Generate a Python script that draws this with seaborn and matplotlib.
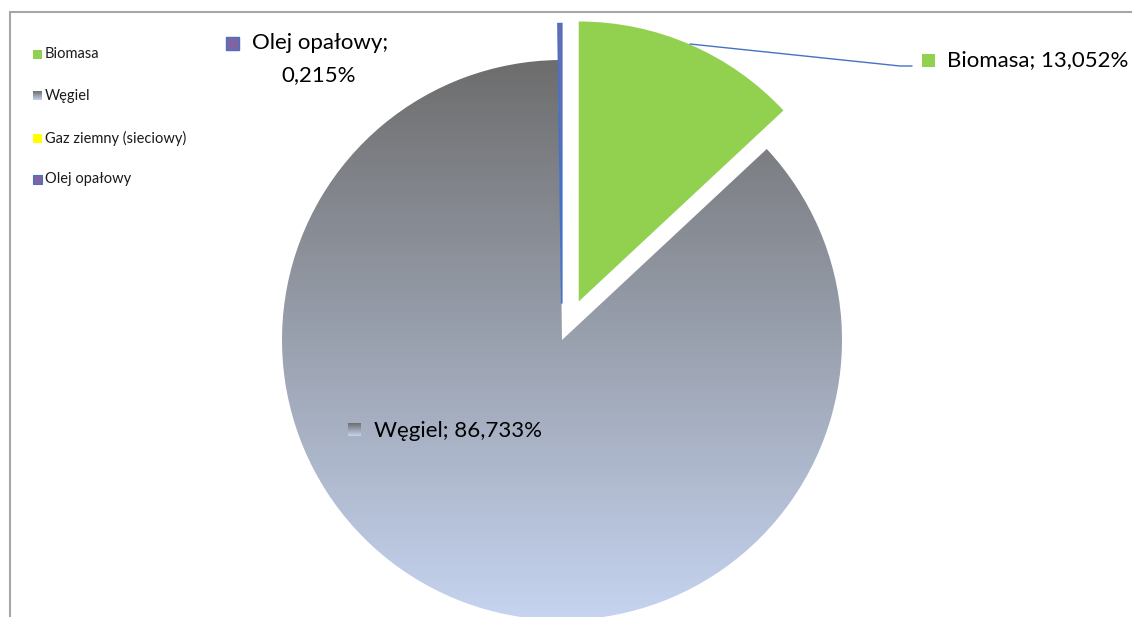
import numpy as np
import matplotlib
matplotlib.use("Agg")
import matplotlib.pyplot as plt
import seaborn as sns
from matplotlib.patches import Rectangle

# Data
categories = ["Biomasa", "Węgiel", "Gaz ziemny (sieciowy)", "Olej opałowy"]
shares = [13.052, 86.733, 0.0, 0.215]
explode = [0.15, 0.0, 0.0, 0.13]
colors = ["#92d050", "none", "#ffff00", "#8064a2"]

sns.set_theme(style="white")
plt.rcParams["font.family"] = ["Lato", "DejaVu Sans"]

W, H = 1132, 617
fig = plt.figure(figsize=(W / 100, H / 100), dpi=100)
ax = fig.add_axes([0, 0, 1, 1])


def py(y):
    # pixel row (top down) -> data y
    return H - y


cx, cy, r = 562, py(340), 280

# matplotlib's explode is in data units, so scale by the radius
wedges, _ = ax.pie(shares, explode=[e * r for e in explode], colors=colors,
                   startangle=90, counterclock=False, center=(cx, cy),
                   radius=r, wedgeprops=dict(linewidth=0))
wedges[3].set_edgecolor("#4472c4")
wedges[3].set_linewidth(1.2)

# gradient fill for Węgiel
top_c = np.array([0x6d, 0x6d, 0x6d]) / 255
bot_c = np.array([0xc6, 0xd4, 0xf0]) / 255
t = np.linspace(0, 1, 256)[:, None, None]
grad = top_c * (1 - t) + bot_c * t
im = ax.imshow(grad, extent=[cx - r, cx + r, cy - r, cy + r], aspect="auto",
               interpolation="bilinear", zorder=0.5)
im.set_clip_path(wedges[1])


def grad_square(x0, y0, s):
    ax.imshow(grad, extent=[x0, x0 + s, py(y0 + s), py(y0)], aspect="auto",
              interpolation="bilinear", zorder=3)


ax.set_xlim(0, W)
ax.set_ylim(0, H)
ax.set_aspect("auto")
ax.axis("off")

# frame
ax.plot([10, 10, W], [0, py(12), py(12)], color="#a6a6a6", lw=1.5,
        solid_joinstyle="miter", zorder=1)

# legend (top left)
leg_y = [54, 96, 138, 179]
for name, col, yy in zip(categories, colors, leg_y):
    if name == "Węgiel":
        grad_square(33, yy - 4.5, 9)
    else:
        ec = "#4472c4" if name == "Olej opałowy" else "none"
        ax.add_patch(Rectangle((33, py(yy + 4.5)), 9, 9, facecolor=col,
                               edgecolor=ec, lw=0.8, zorder=3))
    ax.text(45, py(yy), name, fontsize=10.5, va="center", ha="left",
            color="#1a1a1a")


def fmt(v):
    return f"{v:.3f}%".replace(".", ",")


# data labels
lab_size = 16
# Biomasa
ax.plot([690, 900, 912], [py(44), py(66), py(66)], color="#4472c4", lw=1.0,
        zorder=2)
ax.add_patch(Rectangle((922, py(67)), 13, 13, facecolor=colors[0],
                       edgecolor="none", zorder=3))
ax.text(947, py(60), f"{categories[0]}; {fmt(shares[0])}", fontsize=lab_size,
        va="center", ha="left", color="#000000")

# Olej opałowy
ax.add_patch(Rectangle((226, py(50)), 13, 13, facecolor=colors[3],
                       edgecolor="#4472c4", lw=1.0, zorder=3))
ax.text(252, py(43), f"{categories[3]};", fontsize=lab_size,
        va="center", ha="left", color="#000000")
ax.text(319, py(75), fmt(shares[3]), fontsize=lab_size,
        va="center", ha="center", color="#000000")

# Węgiel
grad_square(348, 423, 13)
ax.text(374, py(431), f"{categories[1]}; {fmt(shares[1])}", fontsize=lab_size,
        va="center", ha="left", color="#000000")

fig.savefig("out.png", dpi=100)
